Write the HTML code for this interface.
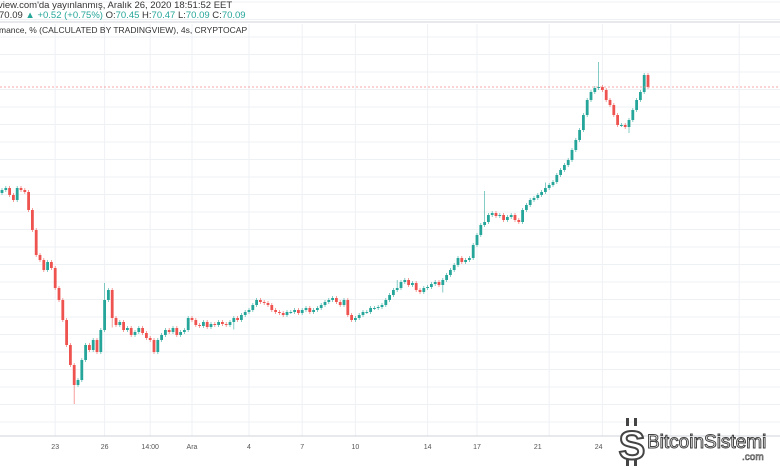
<!DOCTYPE html>
<html><head><meta charset="utf-8"><style>
html,body{margin:0;padding:0;background:#fff;width:780px;height:470px;overflow:hidden;font-family:"Liberation Sans","DejaVu Sans",sans-serif}
svg{position:absolute;left:0;top:0}
</style></head><body>
<svg id="chart" width="780" height="470" viewBox="0 0 780 470">
<g id="grid"></g>
<g id="candles"></g>
<line x1="0" x2="780" y1="87" y2="87" stroke="#f28b8b" stroke-width="0.8" stroke-dasharray="2,2"/>
<line x1="0" x2="780" y1="22" y2="22" stroke="#cfd3d9" stroke-width="1"/>
<text x="-2" y="8" font-size="9.5" fill="#333">view.com'da yayınlanmış, Aralık 26, 2020 18:51:52 EET</text>
<text x="-1" y="18" font-size="9.5" fill="#333">70.09 <tspan fill="#26a69a">▲ +0.52 (+0.75%)</tspan> O:<tspan fill="#26a69a">70.45</tspan> H:<tspan fill="#26a69a">70.47</tspan> L:<tspan fill="#26a69a">70.09</tspan> C:<tspan fill="#26a69a">70.09</tspan></text>
<text x="-1" y="33" font-size="8.5" fill="#333">mance, % (CALCULATED BY TRADINGVIEW), 4s, CRYPTOCAP</text>
<line x1="0" x2="780" y1="436" y2="436" stroke="#cfd3d9"/>
<g id="xlabels" font-size="7" fill="#555" text-anchor="middle"></g>
<g>
<rect x="626" y="418" width="3" height="8" fill="#444"/><rect x="634" y="418" width="3" height="8" fill="#444"/>
<rect x="626" y="458" width="3" height="8" fill="#444"/><rect x="634" y="458" width="3" height="8" fill="#444"/>
<text x="632" y="459" font-size="40" font-weight="bold" fill="#fff" stroke="#444" stroke-width="2" text-anchor="middle" font-family="Liberation Sans,sans-serif">S</text>
<text x="647" y="448" font-size="19" fill="#fff" stroke="#444" stroke-width="1" font-family="Liberation Sans,sans-serif">BitcoinSistemi</text>
<text x="742" y="460" font-size="10" fill="#fff" stroke="#444" stroke-width="0.6">.com</text>
</g>
</svg>
<script>
const closes = [49.5,49.9,48.5,47.5,49.9,49.5,49.1,
45.5,41.5,36.5,35.5,
33.5,35.1,33.9,29.9,
27.5,23.5,18.5,14.5,10.5,11.5,
15.5,18.5,17.5,19.5,17.1,21.5,27.5,29.5,23.9,
22.5,23.1,21.5,21.9,20.5,21.1,21.9,20.9,19.9,19.5,
17.1,19.5,20.5,21.5,21.1,21.9,20.5,21.1,21.5,23.9,
23.5,22.5,22.3,23.1,22.1,22.7,22.5,23.1,22.7,22.5,23.1,23.9,23.5,24.5,25.1,25.5,26.5,27.5,27.1,26.9,
26.5,25.5,25.1,24.9,24.5,25.1,25.1,25.5,24.9,25.5,25.9,25.1,25.5,25.9,26.5,27.1,27.5,27.9,27.1,26.5,27.5,
24.5,23.5,23.9,24.5,25.1,25.1,25.9,25.9,26.1,26.5,27.5,28.5,29.5,29.9,
31.1,31.5,30.5,30.9,29.5,29.1,29.9,30.1,30.7,31.1,30.5,31.5,32.5,33.5,34.5,35.9,
35.1,35.5,35.9,38.5,40.5,
42.5,43.1,44.5,44.9,44.3,44.5,43.5,44.1,44.5,43.5,43.1,45.5,46.5,47.5,47.9,48.5,
49.1,49.9,50.5,51.1,52.5,53.5,54.5,55.5,57.5,59.5,61.5,64.5,67.5,69.1,69.9,70.1,
69.5,67.5,66.5,64.5,62.5,62.5,62.1,63.5,65.5,67.5,69.1,72.5,70.1];
const firstOpen = 48.9;
const spikeHigh = {127:49.3, 157:75.1, 27:30.9, 143:51.0, 104:31.5};
const spikeLow = {19:6.7, 29:22.0, 116:29.0, 165:60.9, 61:21.6};
const xLabels = ["23","26","14:00","Ara","4","7","10","14","17","21","24"];
const xLabelIdx = [14,27,39,50,65,79,93,112,125,141,157];
const gridIdx = [14,27,39,50,65,79,93,112,125,144,158,176,194];

const NS="http://www.w3.org/2000/svg";
const yOf = p => (87.5 - p) * 5;
const step = 646/170;
const xOf = i => 2 + i*step;

const grid=document.getElementById('grid');
for(let y=2; y<436; y+=17.5){
  const l=document.createElementNS(NS,'line');
  
  
  l.setAttribute('x1',0);l.setAttribute('x2',780);l.setAttribute('y1',y);l.setAttribute('y2',y);
  l.setAttribute('stroke','#eef1f4');grid.appendChild(l);
}
gridIdx.forEach(i=>{
  const l=document.createElementNS(NS,'line');
  
  
  const x=xOf(i);
  l.setAttribute('x1',x);l.setAttribute('x2',x);l.setAttribute('y1',24);l.setAttribute('y2',436);
  l.setAttribute('stroke','#eef1f4');grid.appendChild(l);
});
const xl=document.getElementById('xlabels');
xLabels.forEach((t,k)=>{
  const e=document.createElementNS(NS,'text');
  
  
  e.setAttribute('x',xOf(xLabelIdx[k]));e.setAttribute('y',449);e.textContent=t;xl.appendChild(e);
});
const cg=document.getElementById('candles');
closes.forEach((c,i)=>{
  const o = i===0 ? firstOpen : closes[i-1];
  const up = c>=o;
  const col = up ? '#26a69a' : '#ef5350';
  const hi = spikeHigh[i]!==undefined ? spikeHigh[i] : Math.max(o,c)+0.4;
  const lo = spikeLow[i]!==undefined ? spikeLow[i] : Math.min(o,c)-0.4;
  const x=xOf(i);
  const w=document.createElementNS(NS,'line');
  
  
  w.setAttribute('x1',x);w.setAttribute('x2',x);w.setAttribute('y1',yOf(hi));w.setAttribute('y2',yOf(lo));
  w.setAttribute('stroke',col);w.setAttribute('stroke-width','0.8');w.setAttribute('opacity','0.7');cg.appendChild(w);
  const r=document.createElementNS(NS,'rect');
  
  
  const yt=yOf(Math.max(o,c)), yb=yOf(Math.min(o,c));
  r.setAttribute('x',x-1.4);r.setAttribute('width',2.8);r.setAttribute('y',yt);r.setAttribute('height',Math.max(1,yb-yt));
  r.setAttribute('fill',col);cg.appendChild(r);
});
</script>
</body></html>
